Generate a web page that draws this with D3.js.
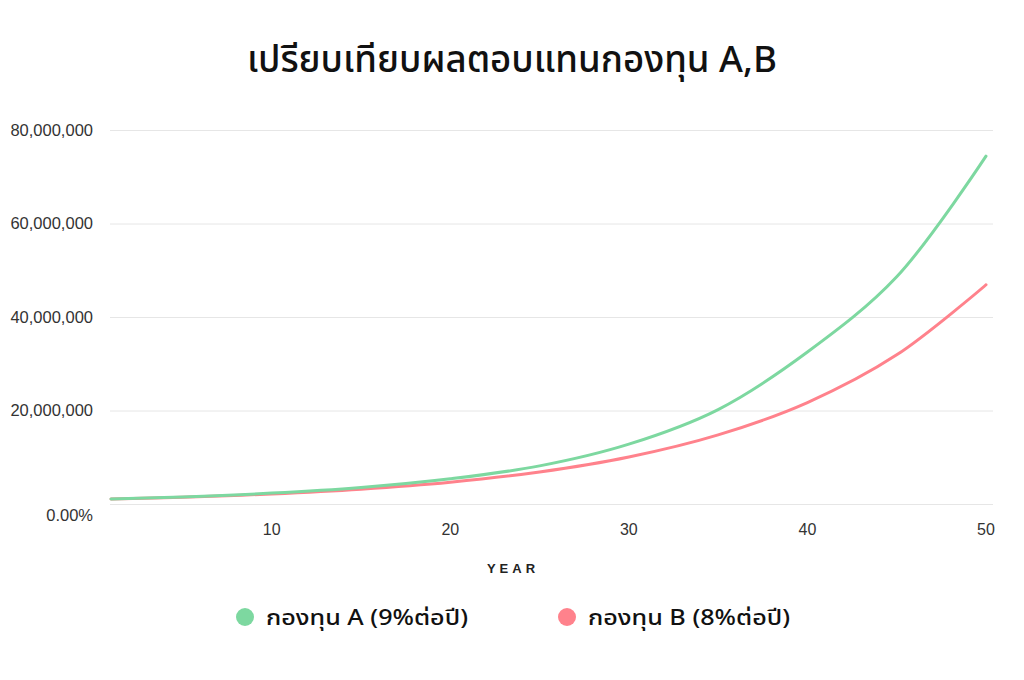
<!DOCTYPE html>
<html>
<head>
<meta charset="utf-8">
<script src="https://cdn.jsdelivr.net/npm/d3@7"></script>
<style>
  html, body { margin: 0; padding: 0; background: #fff; }
  svg { display: block; }
  text { font-family: "Noto Sans Thai", "Noto Sans", "Open Sans", sans-serif; }
  .num { font-family: "Liberation Sans", Arial, sans-serif; }
</style>
</head>
<body>
<svg id="chart" width="1024" height="680"></svg>
<script>
const title = "เปรียบเทียบผลตอบแทนกองทุน A,B";
const xLabel = "YEAR";
const seriesNames = ["กองทุน A (9%ต่อปี)", "กองทุน B (8%ต่อปี)"];
const seriesColors = ["#7dd8a0", "#ff828c"];
const years = [1, 5, 10, 15, 20, 25, 30, 35, 40, 45, 50];
const fundA = [1090000, 1520000, 2330000, 3550000, 5400000, 8150000, 12800000, 20200000, 32500000, 48600000, 74400000];
const fundB = [1080000, 1470000, 2160000, 3170000, 4660000, 6850000, 10060000, 14790000, 21700000, 31900000, 46900000];
const yTicks = [0, 20000000, 40000000, 60000000, 80000000];
const xTicks = [10, 20, 30, 40, 50];

const svg = d3.select("#chart");
const x = d3.scaleLinear().domain([1, 50]).range([111, 986]);
const y = d3.scaleLinear().domain([0, 80000000]).range([504, 130]);

// Title
svg.append("text")
  .attr("x", 512).attr("y", 72)
  .attr("text-anchor", "middle")
  .attr("font-size", 37).attr("font-weight", 500)
  .attr("fill", "#111")
  .attr("textLength", 530).attr("lengthAdjust", "spacingAndGlyphs")
  .text(title);

// Grid lines
svg.append("g").selectAll("line").data(yTicks).join("line")
  .attr("x1", 110).attr("x2", 993)
  .attr("y1", d => y(d) + 0.5).attr("y2", d => y(d) + 0.5)
  .attr("stroke", "#e6e6e6").attr("stroke-width", 1);

// Y labels
const fmt = d3.format(",");
svg.append("g").selectAll("text").data(yTicks).join("text")
  .attr("class", "num")
  .attr("x", 93)
  .attr("y", d => d === 0 ? y(d) + 11 : y(d))
  .attr("dy", "0.35em")
  .attr("text-anchor", "end")
  .attr("font-size", 16.5)
  .attr("fill", "#333")
  .text(d => d === 0 ? "0.00%" : fmt(d));

// X labels
svg.append("g").selectAll("text").data(xTicks).join("text")
  .attr("class", "num")
  .attr("x", d => x(d))
  .attr("y", 529)
  .attr("dy", "0.35em")
  .attr("text-anchor", "middle")
  .attr("font-size", 16)
  .attr("fill", "#333")
  .text(d => d);

svg.append("text")
  .attr("class", "num")
  .attr("x", 513).attr("y", 568)
  .attr("dy", "0.35em")
  .attr("text-anchor", "middle")
  .attr("font-size", 13).attr("font-weight", 700)
  .attr("letter-spacing", 4)
  .attr("fill", "#222")
  .text(xLabel);

// Lines
const line = d3.line().x(d => x(d[0])).y(d => y(d[1])).curve(d3.curveCatmullRom.alpha(0.5));
const seriesData = [fundB, fundA];
const colorsOrder = [seriesColors[1], seriesColors[0]];
seriesData.forEach((vals, i) => {
  svg.append("path")
    .datum(years.map((yr, j) => [yr, vals[j]]))
    .attr("d", line)
    .attr("fill", "none")
    .attr("stroke", colorsOrder[i])
    .attr("stroke-width", 3)
    .attr("stroke-linecap", "round");
});

// Legend
const legendPos = [[245, 266], [567, 588]];
seriesNames.forEach((name, i) => {
  svg.append("circle")
    .attr("cx", legendPos[i][0]).attr("cy", 617).attr("r", 9)
    .attr("fill", seriesColors[i]);
  svg.append("text")
    .attr("x", legendPos[i][1]).attr("y", 617)
    .attr("dy", "0.35em")
    .attr("font-size", 22).attr("font-weight", 500)
    .attr("fill", "#111")
    .attr("textLength", 202).attr("lengthAdjust", "spacingAndGlyphs")
    .text(name);
});
</script>
</body>
</html>
